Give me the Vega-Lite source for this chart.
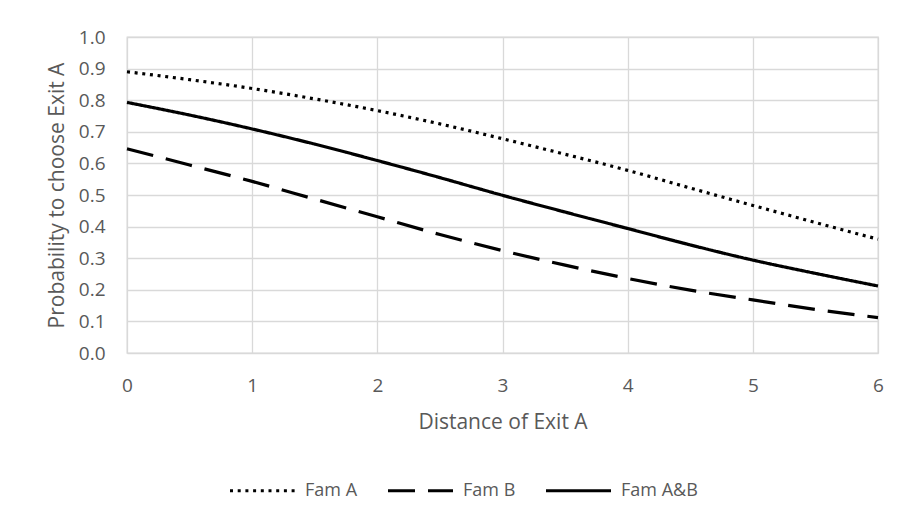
{
  "$schema": "https://vega.github.io/schema/vega-lite/v6.json",
  "width": 751,
  "height": 316,
  "autosize": {"type": "none"},
  "padding": {"left": 127, "top": 37, "right": 23, "bottom": 166},
  "background": "white",
  "config": {
    "font": "Open Sans",
    "view": {"stroke": "#d9d9d9", "strokeWidth": 1.3},
    "axis": {
      "domain": false,
      "ticks": false,
      "tickSize": 0,
      "gridColor": "#d9d9d9",
      "gridWidth": 1.3,
      "labelColor": "#595959",
      "labelFontSize": 19,
      "labelFont": "Open Sans",
      "titleColor": "#595959",
      "titleFontSize": 21,
      "titleFont": "Open Sans",
      "titleFontWeight": "normal"
    },
    "legend": {
      "labelColor": "#595959",
      "labelFontSize": 18,
      "labelFont": "Open Sans"
    }
  },
  "data": {
    "values": [
      {"series": "Fam A", "distance": 0, "probability": 0.890},
      {"series": "Fam A", "distance": 0.5, "probability": 0.865},
      {"series": "Fam A", "distance": 1, "probability": 0.837},
      {"series": "Fam A", "distance": 1.5, "probability": 0.804},
      {"series": "Fam A", "distance": 2, "probability": 0.767},
      {"series": "Fam A", "distance": 2.5, "probability": 0.725},
      {"series": "Fam A", "distance": 3, "probability": 0.678},
      {"series": "Fam A", "distance": 3.5, "probability": 0.629},
      {"series": "Fam A", "distance": 4, "probability": 0.578},
      {"series": "Fam A", "distance": 4.5, "probability": 0.522},
      {"series": "Fam A", "distance": 5, "probability": 0.467},
      {"series": "Fam A", "distance": 5.5, "probability": 0.413},
      {"series": "Fam A", "distance": 6, "probability": 0.360},
      {"series": "Fam B", "distance": 0, "probability": 0.646},
      {"series": "Fam B", "distance": 0.5, "probability": 0.595},
      {"series": "Fam B", "distance": 1, "probability": 0.543},
      {"series": "Fam B", "distance": 1.5, "probability": 0.487},
      {"series": "Fam B", "distance": 2, "probability": 0.431},
      {"series": "Fam B", "distance": 2.5, "probability": 0.375},
      {"series": "Fam B", "distance": 3, "probability": 0.324},
      {"series": "Fam B", "distance": 3.5, "probability": 0.278},
      {"series": "Fam B", "distance": 4, "probability": 0.236},
      {"series": "Fam B", "distance": 4.5, "probability": 0.199},
      {"series": "Fam B", "distance": 5, "probability": 0.168},
      {"series": "Fam B", "distance": 5.5, "probability": 0.138},
      {"series": "Fam B", "distance": 6, "probability": 0.112},
      {"series": "Fam A&B", "distance": 0, "probability": 0.793},
      {"series": "Fam A&B", "distance": 0.5, "probability": 0.753},
      {"series": "Fam A&B", "distance": 1, "probability": 0.709},
      {"series": "Fam A&B", "distance": 1.5, "probability": 0.661},
      {"series": "Fam A&B", "distance": 2, "probability": 0.609},
      {"series": "Fam A&B", "distance": 2.5, "probability": 0.555},
      {"series": "Fam A&B", "distance": 3, "probability": 0.499},
      {"series": "Fam A&B", "distance": 3.5, "probability": 0.446},
      {"series": "Fam A&B", "distance": 4, "probability": 0.394},
      {"series": "Fam A&B", "distance": 4.5, "probability": 0.342},
      {"series": "Fam A&B", "distance": 5, "probability": 0.294},
      {"series": "Fam A&B", "distance": 5.5, "probability": 0.252},
      {"series": "Fam A&B", "distance": 6, "probability": 0.212}
    ]
  },
  "mark": {"type": "line", "color": "black", "strokeWidth": 3.2, "interpolate": "monotone"},
  "encoding": {
    "x": {
      "field": "distance",
      "type": "quantitative",
      "scale": {"domain": [0, 6], "nice": false},
      "axis": {"values": [0, 1, 2, 3, 4, 5, 6], "labelPadding": 23, "title": "Distance of Exit A", "titlePadding": 16, "labelFlush": false}
    },
    "y": {
      "field": "probability",
      "type": "quantitative",
      "scale": {"domain": [0, 1], "nice": false},
      "axis": {"values": [0, 0.1, 0.2, 0.3, 0.4, 0.5, 0.6, 0.7, 0.8, 0.9, 1.0], "format": ".1f", "labelPadding": 22, "title": "Probability to choose Exit A", "titlePadding": 11, "labelFlush": false}
    },
    "strokeDash": {
      "field": "series",
      "type": "nominal",
      "sort": ["Fam A", "Fam B", "Fam A&B"],
      "scale": {"domain": ["Fam A", "Fam B", "Fam A&B"], "range": [[3, 4.7], [27, 13], [1, 0]]},
      "legend": {
        "title": null,
        "orient": "none",
        "direction": "horizontal",
        "legendX": 101,
        "legendY": 419,
        "padding": 0,
        "symbolType": "stroke",
        "symbolSize": 4225,
        "symbolStrokeWidth": 3.2,
        "symbolStrokeColor": "black",
        "labelOffset": 8,
        "columnPadding": 23
      }
    }
  }
}
